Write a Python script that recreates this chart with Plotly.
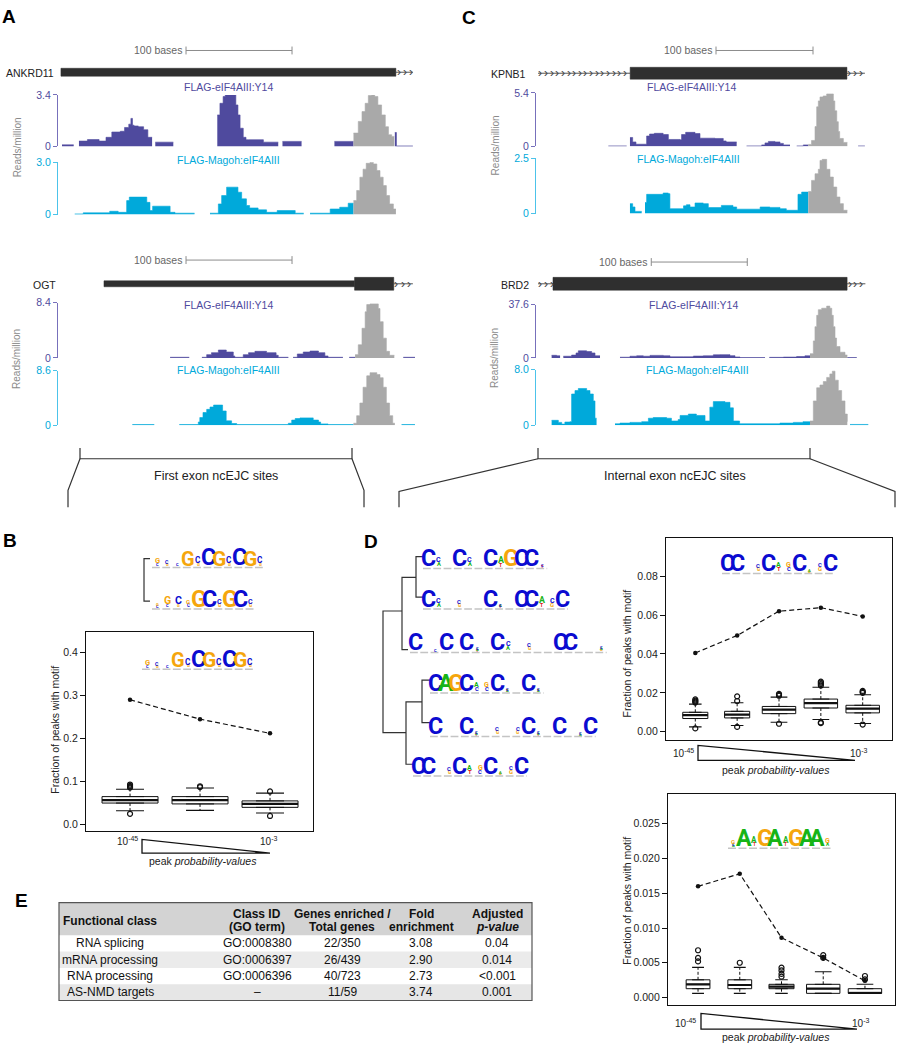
import re
import plotly.graph_objects as go

W, H = 897, 1050
FONT = 'Liberation Sans, Arial, Helvetica, sans-serif'
LOGO_FONT = 'Roboto, Liberation Sans, sans-serif'
Y14_COL = '#4f4a9e'
Y14_AX = '#7770bb'
MAG_COL = '#00a9da'
MAG_AX = '#4cc3ea'
PEAK_COL = '#a9a9a9'
NUC_COL = {'A': '#16b416', 'C': '#0b0bd0', 'G': '#f5a60c', 'T': '#e01515'}

# ---------------- coverage tracks (x in bases, y in reads/million) ----------------
ank_y14_x = [0, 11, None,
             16, 24, 35, 41.5, 47, 55, 59, 63, 65, 66.5, 68, 72, 77, 81, 85, None,
             88, 105, None,
             146.5, 149, 152, 154, 164, 166, 168, 171, 173.6, 176, 190, 204, None,
             208, 226, None,
             257, 275, None,
             314, 315.5, 331]
ank_y14_y = [0.1, 0.1, None,
             0.35, 0.45, 0.35, 0.6, 0.95, 1.0, 1.25, 1.47, 1.85, 1.4, 1.35, 1.3, 1.1, 0.6, 0.6, None,
             0.28, 0.28, None,
             2.08, 2.85, 3.3, 3.4, 2.74, 2.08, 1.2, 0.6, 0.44, 0.44, 0.28, 0.28, None,
             0.33, 0.33, None,
             0.33, 0.33, None,
             0.92, 0.03, 0.03]
ank_y14_pk_x = [275, 279.5, 283, 286, 289, 292, 295, 298, 301.5, 305, 308, 311, 313.5]
ank_y14_pk_y = [0.88, 1.65, 2.3, 2.85, 3.36, 3.4, 3.3, 2.74, 2.08, 1.3, 0.77, 0.66, 0.66]

ank_mag_x = [12, 20, 45, 53, 61, 63.5, 80, 83, 85.5, 102, 106.6, 125, None,
             139.6, 147.5, 150.6, 155.3, 166, 169.5, 174, 177, 185, 193, 203, 220, 228, None,
             234, 253, 262, 270, 275]
ank_mag_y = [0.04, 0.1, 0.19, 0.13, 0.8, 1.0, 0.7, 0.23, 0.48, 0.13, 0.08, 0.08, None,
             0.08, 0.61, 1.09, 1.57, 1.28, 0.9, 0.52, 0.38, 0.27, 0.13, 0.23, 0.08, 0.08, None,
             0.08, 0.32, 0.42, 0.65, 0.65]
ank_mag_pk_x = [275, 278, 281, 284, 287, 290.6, 293.7, 297, 300, 303, 306, 309, 312.6, 315]
ank_mag_pk_y = [0.8, 1.38, 2.14, 2.6, 2.94, 3.0, 2.9, 2.52, 2.14, 1.66, 1.09, 0.61, 0.32, 0.32]

ogt_y14_x = [102, 120, None,
             132, 136.5, 141, 147.5, 155, 161.6, 163, 171, 176, 182, 193, 202, 204, 213.5, None,
             218, 222, 227.6, 234, 242, 248, 251, 265, None,
             271, 276.5, None,
             322, 333]
ogt_y14_y = [0.1, 0.1, None,
             0.1, 0.5, 0.8, 1.2, 0.9, 0.3, 0.1, 0.5, 0.8, 1.0, 0.8, 0.4, 0.1, 0.1, None,
             0.1, 0.6, 0.9, 1.05, 0.8, 0.3, 0.1, 0.1, None,
             0.1, 0.1, None,
             0.1, 0.1]
ogt_y14_pk_x = [276.5, 279.5, 283, 286, 287.5, 290.6, 298.4, 300, 303, 306, 309, 313.5]
ogt_y14_pk_y = [0.5, 2.0, 4.5, 7.0, 8.1, 8.2, 7.5, 5.5, 3.0, 1.0, 0.4, 0.4]

ogt_mag_x = [66.4, 87, None,
             110.7, 128.6, 130, 133, 136.5, 139.6, 143, 151.5, 154.9, 160, 164.8, 213.5, 216.7, 220,
             224.5, 237, 242, 244, 251, 275, None,
             320.4, 333]
ogt_mag_y = [0.1, 0.1, None,
             0.1, 0.5, 1.2, 2.0, 2.5, 2.87, 3.18, 2.24, 0.68, 0.26, 0.1, 0.3, 0.8, 1.05,
             1.15, 0.8, 0.5, 0.2, 0.1, 0.1, None,
             0.1, 0.1]
ogt_mag_pk_x = [275, 278, 281, 284, 287.5, 290.6, 297, 300, 303, 306, 309, 312, 314]
ogt_mag_pk_y = [0.3, 1.5, 3.5, 6.0, 7.8, 8.3, 8.0, 7.5, 6.0, 3.5, 1.5, 0.3, 0.3]

kp_y14_x = [72.5, 91.4, None,
            94.8, 97.6, 101, 112, 115, 119.9, 129, 134.4, 146.4, 148, 152.2, 161.9, 167, 182.5, 191, 194, 204.8, None,
            215, 230.6, 234, 237.5, 244.3, 249.5, 253, 259.8, None,
            266.7, 273.5, 278.7, None,
            330, 337]
kp_y14_y = [0.05, 0.05, None,
            0.9, 0.45, 0.22, 1.05, 1.25, 1.32, 1.2, 0.7, 0.66, 1.2, 1.42, 1.3, 0.83, 0.8, 0.55, 0.45, 0.45, None,
            0.05, 0.15, 0.35, 0.5, 0.45, 0.3, 0.15, 0.15, None,
            0.05, 0.15, 0.15, None,
            0.05, 0.05]
kp_y14_pk_x = [278.7, 282, 285.6, 287.3, 289, 290.7, 294, 297.6, 302.7, 304.5, 306, 308, 309.6, 311, 314.8, 318.9]
kp_y14_pk_y = [0.2, 0.6, 2.0, 4.0, 4.6, 5.0, 5.1, 5.3, 5.3, 4.6, 3.6, 2.5, 1.5, 0.8, 0.4, 0.4]

kp_mag_x = [94.8, 97.6, 100, 106.9, None,
            110.3, 112, 129, 134.4, 136, 150, 153, 156.7, 161.9, 170.4, 175.6, 189, 201, 204.8, 229, 239,
            249.5, 256, 268, 271.8, 278.7]
kp_mag_y = [0.45, 0.3, 0.1, 0.1, None,
            0.5, 0.87, 0.93, 0.9, 0.22, 0.35, 0.4, 0.3, 0.48, 0.45, 0.27, 0.37, 0.3, 0.2, 0.3, 0.28,
            0.22, 0.15, 0.87, 0.97, 0.97]
kp_mag_pk_x = [278.7, 282, 285.6, 289, 290.7, 293, 297.6, 301, 304.5, 308, 311.3, 314.8, 318.9]
kp_mag_pk_y = [1.0, 1.5, 1.8, 2.0, 2.4, 2.45, 2.0, 1.65, 1.2, 0.75, 0.45, 0.15, 0.15]

brd_y14_x = [14.2, 19.4, 23, None,
             26.4, 35, 39.6, 42, 50.7, 55.9, 59.4, 64.6, None,
             85.4, 95.8, 102.8, 109.7, 116.7, 130.6, 137.5, 151.4, 161.8, 172.2, 182.6, 189.6, 200, 205.2, 210.4, 236.5, None,
             241, 255.6, 269.4, 278, 283.3, None,
             322.2, 332]
brd_y14_y = [1.85, 1.5, 1.5, None,
             1.2, 2.0, 3.5, 5.0, 4.5, 3.5, 1.5, 1.5, None,
             0.5, 1.2, 1.5, 1.2, 1.8, 1.5, 0.8, 0.8, 1.3, 1.5, 2.2, 2.3, 1.6, 0.7, 0.3, 0.3, None,
             0.4, 0.6, 1.0, 1.5, 1.5, None,
             0.3, 0.3]
brd_y14_pk_x = [283.3, 286.8, 288.5, 290.3, 292, 295.5, 300.7, 304, 306, 307.6, 309.4, 311, 314.6, 319.8, 322.2]
brd_y14_pk_y = [3.0, 12, 22, 30, 34, 35, 36.5, 35, 30, 22, 14, 8, 4, 2, 2]

brd_mag_x = [14.2, 21.2, 24.7, 28, 33.3, 35, 38.5, 42, 50.7, 54.2, 57.6, 59.4, 61, None,
             80.2, 85.4, 95.8, 108, 115, 120, 134, 139, 146, 148, 156.6, 165, 174, 179, 182.6, 194.8, 200,
             203.5, 210, 252, 266, 276, 283.3, None,
             325, 344]
brd_mag_y = [0.7, 0.4, 0.15, 0.45, 0.5, 4.5, 5.0, 5.3, 5.0, 4.5, 3.5, 1.0, 1.0, None,
             0.2, 0.3, 0.4, 0.5, 1.0, 1.1, 1.0, 0.6, 0.8, 1.4, 1.6, 1.4, 0.6, 2.6, 3.4, 3.3, 2.5,
             0.6, 0.2, 0.3, 0.4, 0.5, 0.5, None,
             0.1, 0.1]
brd_mag_pk_x = [283.3, 286.8, 290.3, 293.7, 297.2, 300.7, 304, 306.6, 309.4, 312.8, 316.3, 319.8, 322.2]
brd_mag_pk_y = [0.6, 3.5, 5.4, 5.8, 6.3, 6.9, 7.4, 7.8, 6.5, 5.0, 3.5, 1.6, 0.5]

track_max = [3.4, 3.0, 8.4, 8.6, 5.4, 2.5, 37.6, 8.0]
track_max_labels = ['3.4', '3.0', '8.4', '8.6', '5.4', '2.5', '37.6', '8.0']
track_titles = ['FLAG-eIF4AIII:Y14', 'FLAG-Magoh:eIF4AIII']

# ---------------- gene models (bases) ----------------
gene_names = ['ANKRD11', 'OGT', 'KPNB1', 'BRD2']
gene_thin = [[], [(39.6, 276)], [], []]
gene_thick = [[(-1, 315)], [(276, 313)], [(95, 318.5)], [(15.6, 322)]]
gene_arrows = [[(315, 331)], [(313, 331)], [(0, 95), (318.5, 337)], [(0, 15.6), (322, 341)]]
scale_bars = [(117, 217), (117, 217), (183.5, 283.5), (118, 218)]

# ---------------- box plot data ----------------
b_q1 = [0.050, 0.048, 0.040]
b_med = [0.057, 0.057, 0.048]
b_q3 = [0.065, 0.065, 0.055]
b_lo = [0.032, 0.033, 0.027]
b_hi = [0.082, 0.085, 0.073]
b_width = [0.8, 0.8, 0.8]
b_out_x = [1, 1, 1, 1, 1, 2, 2, 3, 3]
b_out_y = [0.086, 0.088, 0.090, 0.093, 0.025, 0.087, 0.089, 0.077, 0.020]
b_obs = [0.29, 0.245, 0.212]

d1_q1 = [0.0068, 0.0071, 0.0093, 0.0122, 0.0097]
d1_med = [0.0085, 0.0088, 0.0114, 0.0147, 0.0119]
d1_q3 = [0.0100, 0.0105, 0.0130, 0.0168, 0.0136]
d1_lo = [0.0025, 0.0032, 0.0049, 0.0063, 0.0042]
d1_hi = [0.0142, 0.0149, 0.0178, 0.0229, 0.0190]
d1_width = [0.6, 0.6, 0.8, 0.8, 0.8]
d1_out_x = [1, 1, 1, 1, 1, 2, 2, 2, 3, 3, 3, 3, 4, 4, 4, 4, 4, 4, 5, 5, 5, 5]
d1_out_y = [0.0150, 0.0155, 0.0160, 0.0166, 0.0017, 0.0158, 0.0182, 0.0025, 0.0195, 0.0185, 0.0190, 0.0041,
            0.0238, 0.0245, 0.0252, 0.0258, 0.0048, 0.0044, 0.0200, 0.0205, 0.0210, 0.0037]
d1_obs = [0.0405, 0.0495, 0.0620, 0.0638, 0.0593]

d2_q1 = [0.00127, 0.00127, 0.00127, 0.0006, 0.0006]
d2_med = [0.0019, 0.0018, 0.00156, 0.00127, 0.00065]
d2_q3 = [0.00255, 0.00255, 0.0019, 0.0019, 0.00127]
d2_lo = [0.0006, 0.0006, 0.0006, 0.0006, 0.0006]
d2_hi = [0.00434, 0.00434, 0.00255, 0.0037, 0.0019]
d2_width = [0.57, 0.57, 0.6, 0.8, 0.8]
d2_out_x = [1, 1, 1, 2, 3, 3, 3, 3, 4, 4, 5, 5]
d2_out_y = [0.0052, 0.0057, 0.0068, 0.0050, 0.0030, 0.0034, 0.0039, 0.0043, 0.0057, 0.0061, 0.0026, 0.0031]
d2_obs = [0.0160, 0.0178, 0.0086, 0.0057, 0.0024]

# ---------------- sequence logos (letter + height in % of full column) ----------------
logo_b1 = ["G32C14", "C22G10", "C07", "G85", "C35G18", "C99", "G90", "C35G18", "C99", "G90", "C35G18"]
logo_b2 = ["G12C12", "G45C15", "C45G15", "G25C20", "G99", "C99", "C30G20", "G99", "C99", "C30G20"]
logo_d_r1 = ["C99", "C30A25", "", "C99", "C30A25", "", "C99", "A38T22", "G99", "C99", "C99", "C06T05"]
logo_d_r2 = ["C99", "C30A25", "", "C25G20", "", "", "C99", "C06A05T04", "", "C99", "C99", "A38T22", "C30G25", "C99"]
logo_d_r3 = ["C99", "", "C05", "C99", "", "C99", "C06A05T04", "", "C99", "C30A25", "", "C25G20", "", "",
             "C99", "C99", "", "", "C12A06G08"]
logo_d_r4 = ["C99", "A99", "G99", "C99", "A30C25", "G30C25", "C99", "C06A04T04", "", "C99", "C06A04T04"]
logo_d_r5 = ["C99", "", "", "C99", "C06A04T04", "", "C25G20", "", "C25G20", "C99", "C06A04T04", "", "C99", "",
             "C05A04", "C99"]
logo_d_r6 = ["C99", "C99", "", "C25G20", "C99", "A30T25", "G30C25", "C99", "A05G05", "C25G25", "C99"]
logo_d2 = ["G25C10A05", "A99", "A35T20", "G99", "A99", "A35T20", "G99", "A99", "A99", "G30A20"]

# ---------------- table ----------------
tbl_header = [["<b>Functional class</b>"], ["<b>Class ID</b>", "<b>(GO term)</b>"],
              ["<b>Genes enriched /</b>", "<b>Total genes</b>"], ["<b>Fold</b>", "<b>enrichment</b>"],
              ["<b>Adjusted</b>", "<b><i>p-value</i></b>"]]
tbl_class = ["RNA splicing", "mRNA processing", "RNA processing", "AS-NMD targets"]
tbl_go = ["GO:0008380", "GO:0006397", "GO:0006396", "\u2013"]
tbl_genes = ["22/350", "26/439", "40/723", "11/59"]
tbl_fold = ["3.08", "2.90", "2.73", "3.74"]
tbl_p = ["0.04", "0.014", "&lt;0.001", "0.001"]

# =====================================================================
fig = go.Figure()
annotations, shapes, axes = [], [], {}


def X(p):
    return p / W


def Y(p):
    return 1 - p / H


def text(x, y, s, size=10.5, color='#333', xa='center', ya='middle', angle=0, family=FONT):
    annotations.append(dict(x=X(x), y=Y(y), xref='paper', yref='paper', text=s, showarrow=False,
                            font=dict(size=size, color=color, family=family), xanchor=xa, yanchor=ya,
                            textangle=angle, borderpad=0))


def pline(pts, color='#333', width=1.2, dash=None, fill=None):
    path = 'M ' + ' L '.join(f'{X(a):.5f},{Y(b):.5f}' for a, b in pts)
    if fill:
        path += ' Z'
    d = dict(type='path', path=path, xref='paper', yref='paper',
             line=dict(color=color, width=width, dash=dash))
    if fill:
        d['fillcolor'] = fill
    shapes.append(d)


def rect(x0, y0, x1, y1, fill, line=None, lw=0):
    shapes.append(dict(type='rect', xref='paper', yref='paper', x0=X(x0), x1=X(x1), y0=Y(y1), y1=Y(y0),
                       fillcolor=fill, line=dict(color=line or fill, width=lw), layer='below'))


def axnames(n):
    if n == 1:
        return 'x', 'y', 'xaxis', 'yaxis'
    return f'x{n}', f'y{n}', f'xaxis{n}', f'yaxis{n}'


def split_segments(xs, ys):
    segs, cx, cy = [], [], []
    for a, b in zip(xs, ys):
        if a is None:
            segs.append((cx, cy))
            cx, cy = [], []
        else:
            cx.append(a)
            cy.append(b)
    if cx:
        segs.append((cx, cy))
    return segs


def track(n, xs, ys, pxs, pys, color, axcol, ymax, lab, dom_x, dom_y, xr):
    xr_, yr_, xk, yk = axnames(n)
    for sx, sy in split_segments(xs, ys) + [(pxs, pys)]:
        c = PEAK_COL if sx is pxs else color
        fig.add_trace(go.Scatter(x=sx, y=sy, xaxis=xr_, yaxis=yr_, mode='lines',
                                 line=dict(color=c, width=0.6, shape='hv'), fill='tozeroy', fillcolor=c,
                                 hoverinfo='skip'))
    axes[xk] = dict(domain=[X(dom_x[0]), X(dom_x[1])], range=xr, visible=False, anchor=yr_)
    axes[yk] = dict(domain=[Y(dom_y[1]), Y(dom_y[0])], range=[0, ymax], anchor=xr_, showline=True,
                    linecolor=axcol, linewidth=1, ticks='outside', ticklen=4, tickwidth=1, tickcolor=axcol,
                    tickvals=[0, ymax], ticktext=['0', lab], tickfont=dict(size=10.5, color=color, family=FONT),
                    showgrid=False, zeroline=False)


# ---- genome browser panels ----
gcfg = [
    dict(dx=(58, 416), b0=62, ppb=1.06, d1=(90, 142), d2=(158, 211), gy=67, hh=4, sy=45, lr=55,
         t1=(228, 82), t2=(228, 156), rm=(17, 143)),
    dict(dx=(58, 416), b0=62, ppb=1.06, d1=(300, 356), d2=(369, 424), gy=281, hh=6.5, sy=257, lr=57,
         t1=(228, 302), t2=(228, 368), rm=(17, 357)),
    dict(dx=(536, 866), b0=538, ppb=0.97, d1=(88, 142), d2=(154, 210), gy=68, hh=6, sy=45, lr=527,
         t1=(691, 82), t2=(688, 155), rm=(495, 141)),
    dict(dx=(536, 870), b0=538, ppb=0.96, d1=(302, 356), d2=(368, 424), gy=281, hh=6.5, sy=259, lr=530,
         t1=(693, 302), t2=(697, 368), rm=(495, 356)),
]
track_data = [
    (ank_y14_x, ank_y14_y, ank_y14_pk_x, ank_y14_pk_y, ank_mag_x, ank_mag_y, ank_mag_pk_x, ank_mag_pk_y),
    (ogt_y14_x, ogt_y14_y, ogt_y14_pk_x, ogt_y14_pk_y, ogt_mag_x, ogt_mag_y, ogt_mag_pk_x, ogt_mag_pk_y),
    (kp_y14_x, kp_y14_y, kp_y14_pk_x, kp_y14_pk_y, kp_mag_x, kp_mag_y, kp_mag_pk_x, kp_mag_pk_y),
    (brd_y14_x, brd_y14_y, brd_y14_pk_x, brd_y14_pk_y, brd_mag_x, brd_mag_y, brd_mag_pk_x, brd_mag_pk_y),
]
for g, c in enumerate(gcfg):
    xr = [(c['dx'][0] - c['b0']) / c['ppb'], (c['dx'][1] - c['b0']) / c['ppb']]
    d = track_data[g]
    n1, n2 = 2 * g + 1, 2 * g + 2
    track(n1, d[0], d[1], d[2], d[3], Y14_COL, Y14_AX, track_max[2 * g], track_max_labels[2 * g], c['dx'], c['d1'], xr)
    track(n2, d[4], d[5], d[6], d[7], MAG_COL, MAG_AX, track_max[2 * g + 1], track_max_labels[2 * g + 1], c['dx'], c['d2'], xr)
    text(c['t1'][0], c['t1'][1], track_titles[0], size=10.5, color=Y14_COL)
    text(c['t2'][0], c['t2'][1], track_titles[1], size=10.5, color=MAG_COL)
    text(c['rm'][0], c['rm'][1], 'Reads/million', size=10, color='#8a8a8a', angle=-90)
    xref = axnames(n1)[0]
    gy = c['gy']
    for a, b in gene_arrows[g]:
        shapes.append(dict(type='line', xref=xref, yref='paper', x0=a, x1=b, y0=Y(gy), y1=Y(gy),
                           line=dict(color='#555', width=1)))
        k = a + 2.5
        while k < b - 1:
            annotations.append(dict(x=k, y=Y(gy), xref=xref, yref='paper', text='\u203a', showarrow=False,
                                    font=dict(size=12, color='#444', family=FONT), xanchor='center',
                                    yanchor='middle', borderpad=0))
            k += 5.8
    for a, b in gene_thin[g]:
        shapes.append(dict(type='rect', xref=xref, yref='paper', x0=a, x1=b, y0=Y(gy + 3), y1=Y(gy - 3),
                           fillcolor='#2f2f2f', line=dict(color='#2f2f2f', width=0.5)))
    for a, b in gene_thick[g]:
        shapes.append(dict(type='rect', xref=xref, yref='paper', x0=a, x1=b, y0=Y(gy + c['hh']),
                           y1=Y(gy - c['hh']), fillcolor='#2f2f2f', line=dict(color='#2f2f2f', width=0.5)))
    s0, s1 = scale_bars[g]
    sy = c['sy']
    shapes.append(dict(type='line', xref=xref, yref='paper', x0=s0, x1=s1, y0=Y(sy), y1=Y(sy),
                       line=dict(color='#8c8c8c', width=1)))
    for sx in (s0, s1):
        shapes.append(dict(type='line', xref=xref, yref='paper', x0=sx, x1=sx, y0=Y(sy - 4), y1=Y(sy + 4),
                           line=dict(color='#8c8c8c', width=1)))
    annotations.append(dict(x=s0, y=Y(sy), xref=xref, yref='paper', text='100 bases', showarrow=False,
                            font=dict(size=10.5, color='#666', family=FONT), xanchor='right', yanchor='middle',
                            xshift=-3, borderpad=0))
    text(c['lr'], gy + 1, gene_names[g], size=10.5, color='#222', xa='right')

# ---- brackets under browser panels ----
pline([(80, 447), (80, 458), (352, 458), (352, 447)])
pline([(80, 458), (68, 490), (68, 507)])
pline([(352, 458), (364, 490), (364, 507)])
text(216, 475, 'First exon ncEJC sites', size=12.5, color='#222')
pline([(538, 447), (538, 458), (810, 458), (810, 447)])
pline([(538, 458), (399, 491), (399, 507)])
pline([(810, 458), (895, 491), (895, 507)])
text(675, 475, 'Internal exon ncEJC sites', size=12.5, color='#222')


# ---- logos ----
def add_logo(cols, x0, base, colw, full=16.5):
    for i, col in enumerate(cols):
        stack = [(l, int(v) / 99.0) for l, v in re.findall(r'([ACGT])(\d\d)', col)]
        cx = x0 + colw * (i + 0.5)
        y = base
        for letter, frac in reversed(stack):
            h = frac * full
            size = max(h / 0.71, 4)
            annotations.append(dict(x=X(cx), y=Y(y - h / 2), xref='paper', yref='paper',
                                    text=f'<b>{letter}</b>', showarrow=False,
                                    font=dict(size=size, color=NUC_COL[letter], family=LOGO_FONT),
                                    xanchor='center', yanchor='middle', borderpad=0))
            y -= h
    pline([(x0, base + 2), (x0 + colw * len(cols), base + 2)], color='#c4c4c4', width=1.5,
          dash=f'{colw - 2.5:.1f}px,2.5px')


add_logo(logo_b1, 152, 566, 10.3)
add_logo(logo_b2, 152, 608, 10.4)
add_logo(logo_b1, 142, 669, 10.3)
for rows, (x0, base) in zip([logo_d_r1, logo_d_r2, logo_d_r3, logo_d_r4, logo_d_r5, logo_d_r6],
                            [(423, 567), (423, 608), (410, 652), (430, 693), (430, 737), (413, 777)]):
    add_logo(rows, x0, base, 10.35)
add_logo(logo_d_r6, 722, 572, 10.3)
add_logo(logo_d2, 728, 850, 10.5)

# ---- dendrograms ----
pline([(150, 559), (144, 559), (144, 602), (150, 602)])
pline([(423, 557), (416, 557), (416, 598), (423, 598)])
pline([(416, 578), (402, 578), (402, 651), (408, 651)])
pline([(402, 612), (383, 612), (383, 735), (406, 735)])
pline([(413, 767), (406, 767), (406, 704), (422, 704)])
pline([(430, 682), (422, 682), (422, 725), (430, 725)])


# ---- box plot panels ----
def box_panel(n, q1, med, q3, lo, hi, wid, ox, oy, obs, dom_x, dom_y, xr, yr, tv, fmt):
    xr_, yr_, xk, yk = axnames(n)
    pos = list(range(1, len(q1) + 1))
    wx, wy, cx, cy, mx, my = [], [], [], [], [], []
    for i, p in enumerate(pos):
        fig.add_trace(go.Box(x=[p], q1=[q1[i]], median=[med[i]], q3=[q3[i]], lowerfence=[q1[i]],
                             upperfence=[q3[i]], width=wid[i], fillcolor='white', orientation='v',
                             line=dict(color='#111', width=1), xaxis=xr_, yaxis=yr_, hoverinfo='skip'))
        wx += [p, p, None, p, p, None]
        wy += [q3[i], hi[i], None, q1[i], lo[i], None]
        cw = wid[i] / 4
        cx += [p - cw, p + cw, None, p - cw, p + cw, None]
        cy += [hi[i], hi[i], None, lo[i], lo[i], None]
        mx += [p - wid[i] / 2, p + wid[i] / 2, None]
        my += [med[i], med[i], None]
    fig.add_trace(go.Scatter(x=wx, y=wy, xaxis=xr_, yaxis=yr_, mode='lines',
                             line=dict(color='#111', width=1, dash='3px,2px'), hoverinfo='skip'))
    fig.add_trace(go.Scatter(x=cx, y=cy, xaxis=xr_, yaxis=yr_, mode='lines',
                             line=dict(color='#111', width=1.1), hoverinfo='skip'))
    fig.add_trace(go.Scatter(x=mx, y=my, xaxis=xr_, yaxis=yr_, mode='lines',
                             line=dict(color='#111', width=2.2), hoverinfo='skip'))
    fig.add_trace(go.Scatter(x=ox, y=oy, xaxis=xr_, yaxis=yr_, mode='markers',
                             marker=dict(symbol='circle-open', size=5, color='#111', line=dict(width=1.2)),
                             hoverinfo='skip'))
    fig.add_trace(go.Scatter(x=pos, y=obs, xaxis=xr_, yaxis=yr_, mode='lines+markers',
                             line=dict(color='#111', width=1.2, dash='5px,3px'),
                             marker=dict(size=4.5, color='#111'), hoverinfo='skip'))
    axes[xk] = dict(domain=[X(dom_x[0]), X(dom_x[1])], range=xr, anchor=yr_, showline=True, mirror=True,
                    linecolor='#111', linewidth=1.2, showticklabels=False, ticks='', showgrid=False,
                    zeroline=False)
    axes[yk] = dict(domain=[Y(dom_y[1]), Y(dom_y[0])], range=yr, anchor=xr_, showline=True, mirror=True,
                    linecolor='#111', linewidth=1.2, ticks='outside', ticklen=5, tickcolor='#111',
                    tickvals=tv, tickformat=fmt, tickfont=dict(size=10.5, color='#222', family=FONT),
                    showgrid=False, zeroline=False)


box_panel(9, b_q1, b_med, b_q3, b_lo, b_hi, b_width, b_out_x, b_out_y, b_obs, (86, 313), (633, 835),
          [0.371, 3.614], [-0.016, 0.448], [0, 0.1, 0.2, 0.3, 0.4], '.1f')
box_panel(10, d1_q1, d1_med, d1_q3, d1_lo, d1_hi, d1_width, d1_out_x, d1_out_y, d1_obs, (666, 892), (538, 742),
          [0.3, 5.7], [-0.004, 0.0997], [0, 0.02, 0.04, 0.06, 0.08], '.2f')
box_panel(11, d2_q1, d2_med, d2_q3, d2_lo, d2_hi, d2_width, d2_out_x, d2_out_y, d2_obs, (668, 895), (797, 1011),
          [0.28, 5.72], [-0.00114, 0.0293], [0, 0.005, 0.01, 0.015, 0.02, 0.025], '.3f')

for (l1, l2, tri, tp, yt) in [
        ((127, 845), (268, 845), [(142, 843), (142, 857), (270, 857)], (203, 865), (55, 732)),
        ((683, 756), (858, 756), [(698, 748), (698, 763), (855, 763)], (776, 773), (627, 655)),
        ((685, 1029), (860, 1029), [(701, 1019), (701, 1035), (857, 1035)], (776, 1043), (627, 905))]:
    text(l1[0], l1[1], '10<sup>-45</sup>', size=10, color='#222')
    text(l2[0], l2[1], '10<sup>-3</sup>', size=10, color='#222')
    pline(tri, color='#111', width=1.3, fill='rgba(0,0,0,0)')
    text(tp[0], tp[1], 'peak <i>probability-values</i>', size=10.5, color='#222')
    text(yt[0], yt[1], 'Fraction of peaks with motif', size=10.5, color='#222', angle=-90)

# ---- table E ----
rect(59, 907, 532, 940, '#d3d3d3')
rect(59, 956.5, 532, 973, '#ebebeb')
rect(59, 989.5, 532, 1006, '#e6e6e6')
shapes.append(dict(type='rect', xref='paper', yref='paper', x0=X(59), x1=X(532), y0=Y(1006), y1=Y(907),
                   line=dict(color='#555', width=1.2), fillcolor='rgba(0,0,0,0)'))
col_x = [110, 257, 342, 421, 497]
for cx, lines in zip(col_x, tbl_header):
    if len(lines) == 1:
        text(cx, 926, lines[0], size=12, color='#111')
    else:
        text(cx, 918, lines[0], size=12, color='#111')
        text(cx, 932, lines[1], size=12, color='#111')
for r in range(4):
    ry = 948 + r * 16.6
    for cx, col in zip(col_x, [tbl_class, tbl_go, tbl_genes, tbl_fold, tbl_p]):
        text(cx, ry, col[r], size=12, color='#111')

# ---- panel letters ----
for lt, (lx, ly) in zip('ACBDE', [(9, 11), (469, 12), (10, 541), (371, 542), (21, 905)]):
    text(lx, ly, f'<b>{lt}</b>', size=19, color='#000')

fig.update_layout(width=W, height=H, margin=dict(l=0, r=0, t=0, b=0), paper_bgcolor='white',
                  plot_bgcolor='rgba(0,0,0,0)', showlegend=False, font=dict(family=FONT),
                  annotations=annotations, shapes=shapes, boxmode='overlay', **axes)
fig.write_html('out.html', config={'displayModeBar': False},
               post_script="document.body.style.margin='0px';document.body.style.padding='0px';"
                           "document.documentElement.style.overflow='hidden';")
